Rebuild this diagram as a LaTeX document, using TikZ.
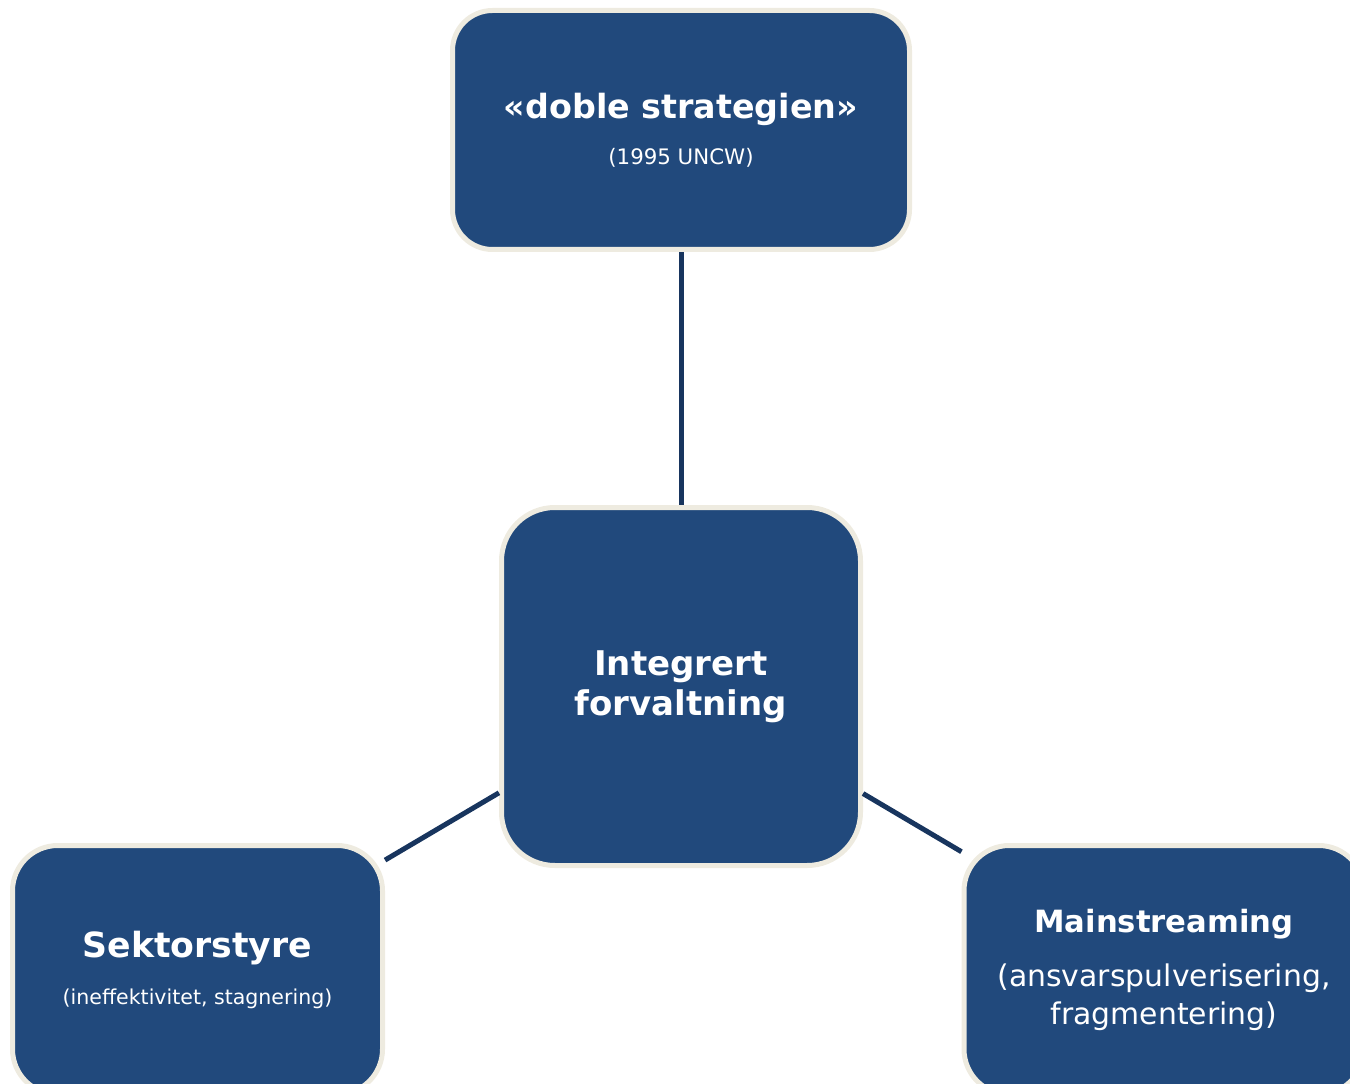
\documentclass[tikz,border=0pt]{standalone}
\usepackage{fontspec}
\setmainfont{DejaVu Sans}
\usetikzlibrary{positioning}
\definecolor{boxblue}{RGB}{33,73,124}
\definecolor{boxrim}{RGB}{238,235,224}
\definecolor{linknavy}{RGB}{24,53,94}
\begin{document}
\begin{tikzpicture}[
                        x=0.75pt, y=-0.75pt,
                        block/.style={rectangle, fill=boxblue, draw=boxrim, line width=3.75pt,
                                      text=white, align=center, outer sep=1.9pt},
                        link/.style={draw=linknavy, line width=3.75pt}
                    ]
                    \clip (0,0) rectangle (1350,1084);
                    % Blocks
                    \node [block, minimum width=342.75pt, minimum height=179.25pt, rounded corners=30pt,
                           font=\fontsize{16}{19}\selectfont] (doble) at (681,130)
                        {\fontsize{25}{30}\selectfont\bfseries «doble strategien»\\[15.5pt](1995 UNCW)};
                    \node [block, minimum width=269.25pt, minimum height=268.5pt, rounded corners=40pt,
                           font=\fontsize{25.5}{30}\selectfont\bfseries] (integrert) at (681,686.5)
                        {Integrert\\forvaltning};
                    \node [block, minimum width=277.5pt, minimum height=186.75pt, rounded corners=34pt,
                           font=\fontsize{15.4}{18.5}\selectfont] (sektor) at (197.5,970)
                        {\fontsize{26}{30}\selectfont\bfseries Sektorstyre\\[16.5pt](ineffektivitet, stagnering)};
                    \node [block, minimum width=300pt, minimum height=186.75pt, rounded corners=34pt,
                           font=\fontsize{22.4}{28.5}\selectfont] (mainstr) at (1164,970)
                        {\fontsize{23}{27}\selectfont\bfseries Mainstreaming\\[11.5pt](ansvarspulverisering,\\fragmentering)};

                    % Connections
                    \draw [link] (doble) -- (integrert);
                    \draw [link] (sektor) -- (integrert);
                    \draw [link] (integrert) -- (mainstr);
                \end{tikzpicture}
\end{document}
